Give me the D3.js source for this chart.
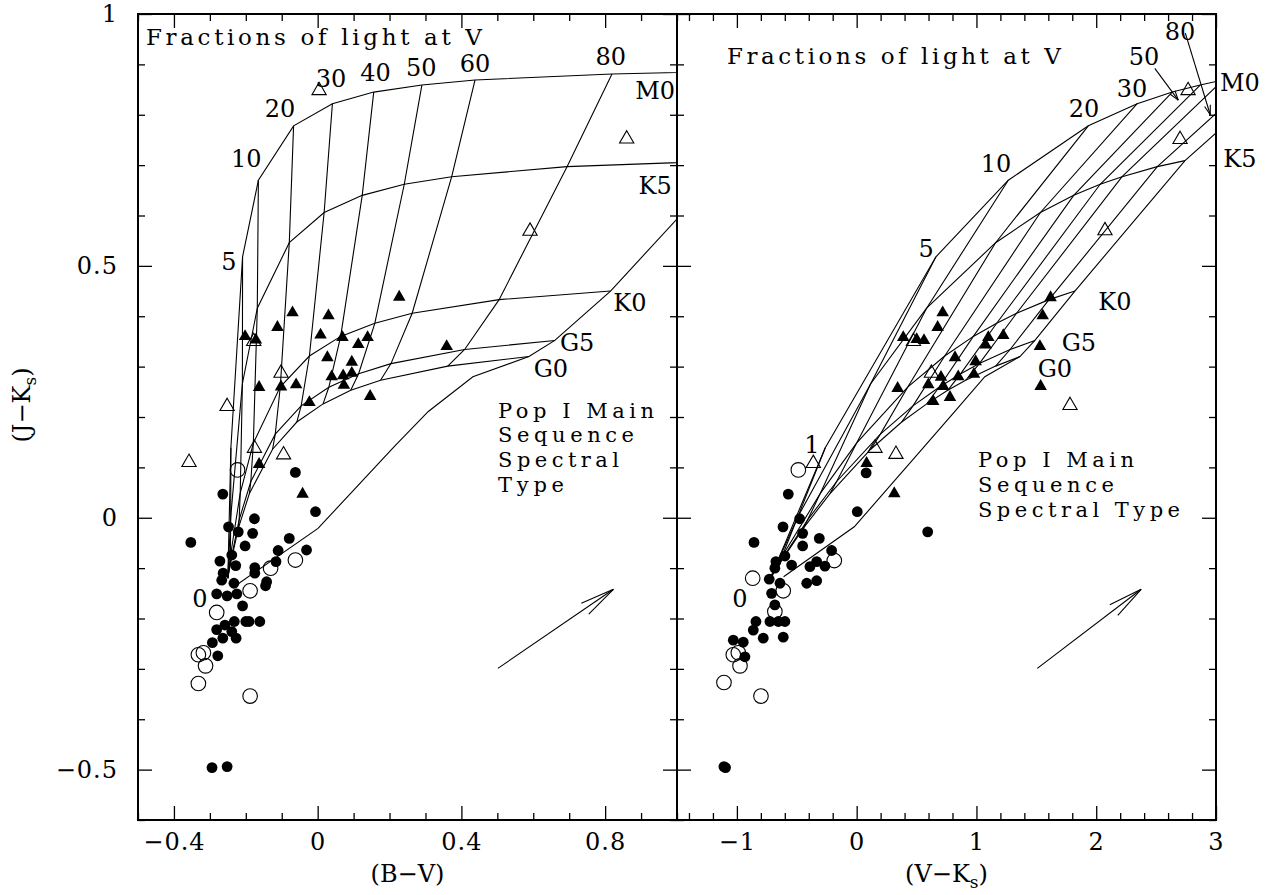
<!DOCTYPE html>
<html><head><meta charset="utf-8">
<script src="https://cdn.jsdelivr.net/npm/d3@7"></script>
<style>body{margin:0;background:#fff;} svg text{font-family:"DejaVu Serif",serif;fill:#000;}</style>
</head><body><svg id="c" width="1273" height="895"></svg>
<script>
// ---------------- DATA ----------------
// fractions of light at V contributed by the cool companion (percent)
const fractions = [0, 1, 5, 10, 20, 30, 40, 50, 60, 80, 100];
const spectralTypes = ["G0", "G5", "K0", "K5", "M0"];
// composite colours along each mixing curve (same order as fractions)
const jkG0 = [-0.12, -0.096, -0.020, 0.048, 0.136, 0.190, 0.226, 0.253, 0.273, 0.301, 0.320];
const bvG0 = [-0.25, -0.244, -0.2205, -0.190, -0.1255, -0.058, 0.015, 0.092, 0.175, 0.362, 0.588];
const vkG0 = [-0.72, -0.659, -0.443, -0.2225, 0.1175, 0.376, 0.585, 0.760, 0.910, 1.160, 1.363];
const jkG5 = [-0.12, -0.092, -0.004, 0.072, 0.166, 0.222, 0.259, 0.286, 0.306, 0.334, 0.352];
const bvG5 = [-0.25, -0.244, -0.2185, -0.186, -0.118, -0.046, 0.031, 0.114, 0.204, 0.409, 0.660];
const vkG5 = [-0.72, -0.650, -0.409, -0.167, 0.198, 0.470, 0.688, 0.869, 1.024, 1.281, 1.488];
const jkK0 = [-0.12, -0.077, 0.049, 0.148, 0.260, 0.321, 0.360, 0.386, 0.406, 0.433, 0.450];
const bvK0 = [-0.25, -0.243, -0.2155, -0.179, -0.104, -0.023, 0.064, 0.159, 0.263, 0.505, 0.815];
const vkK0 = [-0.72, -0.623, -0.302, -0.001, 0.428, 0.735, 0.974, 1.169, 1.335, 1.606, 1.822];
const jkK5 = [-0.12, 0.001, 0.266, 0.416, 0.546, 0.606, 0.640, 0.662, 0.677, 0.697, 0.709];
const bvK5 = [-0.25, -0.242, -0.2095, -0.168, -0.079, 0.018, 0.124, 0.241, 0.373, 0.694, 1.15];
const vkK5 = [-0.72, -0.493, 0.117, 0.584, 1.160, 1.534, 1.812, 2.033, 2.216, 2.510, 2.741];
const jkM0 = [-0.12, 0.139, 0.518, 0.670, 0.778, 0.822, 0.845, 0.859, 0.869, 0.881, 0.89];
const bvM0 = [-0.25, -0.2415, -0.209, -0.165, -0.067, 0.041, 0.156, 0.290, 0.438, 0.819, 1.41];
const vkM0 = [-0.72, -0.262, 0.662, 1.266, 1.934, 2.342, 2.635, 2.868, 3.059, 3.363, 3.60];

// Pop I main sequence
const msBV = [-0.225, 0.001, 0.213, 0.308, 0.432, 0.588, 0.660, 0.815, 1.15, 1.41];
const msJKLeft = [-0.133, -0.021, 0.141, 0.211, 0.280, 0.320, 0.352, 0.450, 0.709, 0.89];
const msVK = [-0.61, -0.02, 0.564, 0.82, 1.07, 1.363, 1.488, 1.822, 2.741, 3.60];
const msJKRight = [-0.117, -0.018, 0.141, 0.211, 0.280, 0.320, 0.352, 0.450, 0.709, 0.89];

// observed stars [colour, J-Ks]
const leftFilledCircles = [[-0.062,0.090],[-0.264,0.047],[-0.006,0.012],[-0.176,-0.002],[-0.248,-0.018],[-0.221,-0.028],[-0.181,-0.031],[-0.353,-0.049],[-0.202,-0.056],[-0.079,-0.041],[-0.110,-0.065],[-0.031,-0.064],[-0.239,-0.074],[-0.272,-0.086],[-0.116,-0.087],[-0.228,-0.095],[-0.175,-0.099],[-0.263,-0.110],[-0.175,-0.110],[-0.267,-0.124],[-0.233,-0.130],[-0.142,-0.127],[-0.145,-0.135],[-0.281,-0.151],[-0.252,-0.155],[-0.225,-0.151],[-0.209,-0.175],[-0.232,-0.206],[-0.200,-0.206],[-0.191,-0.206],[-0.161,-0.206],[-0.281,-0.222],[-0.258,-0.213],[-0.264,-0.239],[-0.239,-0.226],[-0.227,-0.239],[-0.293,-0.248],[-0.278,-0.274],[-0.294,-0.496],[-0.252,-0.494]];
const rightFilledCircles = [[0.079,0.089],[-0.571,0.047],[0.005,0.012],[-0.476,-0.002],[-0.615,-0.018],[0.593,-0.028],[-0.451,-0.031],[-0.857,-0.049],[-0.451,-0.056],[-0.312,-0.041],[-0.209,-0.065],[-0.599,-0.076],[-0.674,-0.087],[-0.543,-0.094],[-0.390,-0.097],[-0.334,-0.087],[-0.265,-0.096],[-0.417,-0.130],[-0.334,-0.125],[-0.730,-0.122],[-0.683,-0.100],[-0.640,-0.130],[-0.710,-0.150],[-0.683,-0.173],[-0.841,-0.206],[-0.724,-0.206],[-0.654,-0.206],[-0.599,-0.206],[-0.863,-0.223],[-0.780,-0.239],[-0.613,-0.237],[-1.030,-0.243],[-0.947,-0.247],[-0.933,-0.276],[-1.108,-0.494],[-1.095,-0.496]];
const leftOpenCircles = [[-0.223,0.095],[-0.131,-0.100],[-0.062,-0.084],[-0.188,-0.145],[-0.281,-0.188],[-0.332,-0.272],[-0.318,-0.268],[-0.312,-0.294],[-0.332,-0.329],[-0.188,-0.354]];
const rightOpenCircles = [[-0.487,0.095],[-0.868,-0.120],[-0.187,-0.085],[-0.613,-0.145],[-0.683,-0.186],[-1.030,-0.272],[-0.988,-0.268],[-0.974,-0.294],[-1.108,-0.327],[-0.799,-0.354]];
const leftFilledTriangles = [[0.227,0.441],[-0.070,0.410],[0.030,0.404],[-0.112,0.381],[-0.202,0.363],[-0.172,0.356],[0.008,0.366],[0.069,0.361],[0.139,0.361],[0.113,0.347],[0.359,0.343],[0.027,0.321],[0.095,0.312],[-0.163,0.262],[-0.102,0.263],[-0.060,0.267],[0.039,0.283],[0.071,0.285],[0.095,0.290],[0.073,0.266],[-0.023,0.232],[0.146,0.244],[-0.163,0.109],[-0.042,0.050]];
const rightFilledTriangles = [[1.619,0.440],[0.718,0.410],[1.553,0.404],[0.676,0.381],[0.389,0.361],[0.501,0.357],[0.562,0.355],[1.099,0.361],[1.224,0.365],[1.077,0.346],[1.530,0.343],[0.821,0.321],[0.993,0.313],[1.536,0.264],[0.342,0.260],[0.598,0.267],[0.723,0.264],[0.704,0.282],[0.848,0.283],[0.979,0.288],[0.639,0.234],[0.779,0.242],[0.083,0.111],[0.314,0.051]];
const leftOpenTriangles = [[0.004,0.851],[0.860,0.755],[0.591,0.572],[-0.252,0.224],[-0.358,0.113],[-0.178,0.353],[-0.102,0.290],[-0.176,0.141],[-0.095,0.128]];
const rightOpenTriangles = [[2.767,0.851],[2.700,0.754],[2.073,0.573],[1.781,0.226],[-0.362,0.111],[0.153,0.141],[0.328,0.129],[0.474,0.353],[0.624,0.290]];

// reddening vectors [x0,y0,x1,y1]
const leftReddening = [0.5015, -0.299, 0.823, -0.142];
const rightReddening = [1.508, -0.299, 2.375, -0.142];

// axis ticks
const leftXMajor = [-0.4, 0, 0.4, 0.8];
const leftXMinor = [-0.5,-0.3,-0.2,-0.1,0.1,0.2,0.3,0.5,0.6,0.7,0.9,1.0];
const rightXMajor = [-1, 0, 1, 2, 3];
const rightXMinor = [-1.4,-1.2,-0.8,-0.6,-0.4,-0.2,0.2,0.4,0.6,0.8,1.2,1.4,1.6,1.8,2.2,2.4,2.6,2.8];
const yMajor = [-0.5, 0, 0.5, 1];
const yMinor = [-0.6,-0.4,-0.3,-0.2,-0.1,0.1,0.2,0.3,0.4,0.6,0.7,0.8,0.9];

// annotation labels [text, x, y]
const leftLabels = [["5",-0.247,0.492],["10",-0.199,0.696],["20",-0.105,0.795],["30",0.037,0.855],["40",0.161,0.867],["50",0.288,0.877],["60",0.438,0.885],["80",0.816,0.899],["M0",0.939,0.831],["K5",0.939,0.643],["K0",0.869,0.410],["G5",0.722,0.331],["G0",0.649,0.279],["0",-0.328,-0.177]];
const rightLabels = [["80",2.699,0.948],["50",2.399,0.899],["30",2.298,0.835],["20",1.898,0.795],["10",1.163,0.686],["5",0.579,0.517],["1",-0.373,0.128],["0",-0.974,-0.177],["M0",3.200,0.847],["K5",3.200,0.696],["K0",2.156,0.412],["G5",1.855,0.331],["G0",1.655,0.279]];
// text blocks [text, x, y, width in px]
const leftTextBlocks = [["Fractions of light at V",-0.478,0.938,336],["Pop I Main",0.502,0.198,156],["Sequence",0.502,0.150,136],["Spectral",0.502,0.100,121],["Type",0.502,0.051,66]];
const rightTextBlocks = [["Fractions of light at V",-1.083,0.901,334],["Pop I Main",1.013,0.101,156],["Sequence",1.013,0.051,136],["Spectral Type",1.013,0.001,202]];
// label pointer arrows in right panel [x0,y0,x1,y1]
const rightPointers = [[2.489,0.892,2.685,0.829],[2.744,0.962,2.952,0.800]];

// ---------------- DRAW ----------------
const svg = d3.select("#c");
const Y0 = 14, Y1 = 820;
const yS = d3.scaleLinear().domain([-0.6, 1.0]).range([Y1, Y0]);
const typeJK = {G0: jkG0, G5: jkG5, K0: jkK0, K5: jkK5, M0: jkM0};
const panels = [
  {id: "L", x: d3.scaleLinear().domain([-0.5, 1.0]).range([138, 677]),
   col: {G0: bvG0, G5: bvG5, K0: bvK0, K5: bvK5, M0: bvM0}, ms: [msBV, msJKLeft],
   fc: leftFilledCircles, oc: leftOpenCircles, ft: leftFilledTriangles, ot: leftOpenTriangles,
   red: leftReddening, labels: leftLabels, blocks: leftTextBlocks, pointers: [],
   xMajor: leftXMajor, xMinor: leftXMinor, yLabels: true, title: "(B−V)", sub: null},
  {id: "R", x: d3.scaleLinear().domain([-1.5, 3.0]).range([677, 1216]),
   col: {G0: vkG0, G5: vkG5, K0: vkK0, K5: vkK5, M0: vkM0}, ms: [msVK, msJKRight],
   fc: rightFilledCircles, oc: rightOpenCircles, ft: rightFilledTriangles, ot: rightOpenTriangles,
   red: rightReddening, labels: rightLabels, blocks: rightTextBlocks, pointers: rightPointers,
   xMajor: rightXMajor, xMinor: rightXMinor, yLabels: false, title: "(V−K", sub: "s"}
];
const fmt = d => d === 0 ? "0" : (d < 0 ? "−" : "") + Math.abs(d);
const line = d3.line();

function arrow(g, p0, p1, len, ang, sw) {
  const dx = p1[0]-p0[0], dy = p1[1]-p0[1];
  const a = Math.atan2(dy, dx);
  g.append("line").attr("x1",p0[0]).attr("y1",p0[1]).attr("x2",p1[0]).attr("y2",p1[1])
    .attr("stroke","#000").attr("stroke-width",sw);
  [-ang, ang].forEach(s => {
    g.append("line").attr("x1",p1[0]).attr("y1",p1[1])
      .attr("x2",p1[0]-len*Math.cos(a+s)).attr("y2",p1[1]-len*Math.sin(a+s))
      .attr("stroke","#000").attr("stroke-width",sw);
  });
}

panels.forEach(p => {
  const x = p.x, [xa, xb] = x.range();
  const defs = svg.append("defs");
  defs.append("clipPath").attr("id","clip"+p.id).append("rect")
    .attr("x",xa).attr("y",Y0).attr("width",xb-xa).attr("height",Y1-Y0);
  const g = svg.append("g").attr("clip-path",`url(#clip${p.id})`);
  // mixing curves for each spectral type
  spectralTypes.forEach(t => {
    const pts = fractions.map((f,i) => [x(p.col[t][i]), yS(typeJK[t][i])]);
    g.append("path").attr("d", line(pts)).attr("fill","none").attr("stroke","#000").attr("stroke-width",1.1);
  });
  // iso-fraction lines
  fractions.forEach((f,i) => {
    if (f === 0 || f === 100) return;
    const pts = spectralTypes.map(t => [x(p.col[t][i]), yS(typeJK[t][i])]);
    g.append("path").attr("d", line(pts)).attr("fill","none").attr("stroke","#000").attr("stroke-width",1.1);
  });
  // main sequence
  g.append("path").attr("d", line(p.ms[0].map((v,i) => [x(v), yS(p.ms[1][i])])))
    .attr("fill","none").attr("stroke","#000").attr("stroke-width",1.1);
  // stars
  g.selectAll(null).data(p.fc).join("circle").attr("cx",d=>x(d[0])).attr("cy",d=>yS(d[1])).attr("r",5.4).attr("fill","#000");
  g.selectAll(null).data(p.oc).join("circle").attr("cx",d=>x(d[0])).attr("cy",d=>yS(d[1])).attr("r",7.3)
    .attr("fill","none").attr("stroke","#000").attr("stroke-width",1.1);
  const triF = d3.symbol().type(d3.symbolTriangle).size(68);
  const triO = d3.symbol().type(d3.symbolTriangle).size(88);
  g.selectAll(null).data(p.ft).join("path").attr("d",triF).attr("transform",d=>`translate(${x(d[0])},${yS(d[1])+1.5})`).attr("fill","#000");
  g.selectAll(null).data(p.ot).join("path").attr("d",triO).attr("transform",d=>`translate(${x(d[0])},${yS(d[1])+1.5})`)
    .attr("fill","none").attr("stroke","#000").attr("stroke-width",1.1);
  // reddening vector
  arrow(g, [x(p.red[0]), yS(p.red[1])], [x(p.red[2]), yS(p.red[3])], 35, 0.19, 1.1);
  p.pointers.forEach(q => arrow(g, [x(q[0]), yS(q[1])], [x(q[2]), yS(q[3])], 10, 0.3, 1.1));

  // labels (not clipped)
  const lg = svg.append("g").attr("font-size",24);
  lg.selectAll(null).data(p.labels).join("text").attr("x",d=>x(d[1])).attr("y",d=>yS(d[2]))
    .attr("text-anchor","middle").text(d=>d[0]);
  lg.selectAll(null).data(p.blocks).join("text").attr("x",d=>x(d[1])).attr("y",d=>yS(d[2]))
    .attr("font-size",(d,i)=> i === 0 ? 23 : 21)
    .attr("textLength",d=>d[3]).attr("lengthAdjust","spacing").text(d=>d[0]);

  // frame
  svg.append("rect").attr("x",xa).attr("y",Y0).attr("width",xb-xa).attr("height",Y1-Y0)
    .attr("fill","none").attr("stroke","#000").attr("stroke-width",2);
  // ticks
  const ax = svg.append("g");
  const add = (axis, tr) => ax.append("g").attr("transform",tr).call(axis);
  add(d3.axisBottom(x).tickValues(p.xMajor).tickSize(-14).tickPadding(13).tickFormat(fmt), `translate(0,${Y1})`);
  add(d3.axisBottom(x).tickValues(p.xMinor).tickSize(-7).tickFormat(""), `translate(0,${Y1})`);
  add(d3.axisTop(x).tickValues(p.xMajor).tickSize(-14).tickFormat(""), `translate(0,${Y0})`);
  add(d3.axisTop(x).tickValues(p.xMinor).tickSize(-7).tickFormat(""), `translate(0,${Y0})`);
  add(d3.axisLeft(yS).tickValues(yMajor).tickSize(-14).tickPadding(20).tickFormat(p.yLabels ? fmt : ""), `translate(${xa},0)`);
  add(d3.axisLeft(yS).tickValues(yMinor).tickSize(-7).tickFormat(""), `translate(${xa},0)`);
  add(d3.axisRight(yS).tickValues(yMajor).tickSize(-14).tickFormat(""), `translate(${xb},0)`);
  add(d3.axisRight(yS).tickValues(yMinor).tickSize(-7).tickFormat(""), `translate(${xb},0)`);
  ax.selectAll(".domain").remove();
  ax.selectAll(".tick line").attr("stroke","#000").attr("stroke-width",1.3);
  ax.selectAll("g").attr("font-family",null).attr("font-size",null);
  ax.selectAll(".tick text").attr("font-size",24).attr("letter-spacing",1).attr("fill","#000");

  // axis title
  const tt = svg.append("text").attr("x",(xa+xb)/2).attr("y",882).attr("text-anchor","middle").attr("font-size",24).text(p.title);
  if (p.sub) { tt.append("tspan").attr("font-size",17).attr("dy",6).text(p.sub); tt.append("tspan").attr("dy",-6).text(")"); }
});

// y axis title
const yt = svg.append("text").attr("transform","translate(30,405) rotate(-90)").attr("text-anchor","middle").attr("font-size",24).text("(J−K");
yt.append("tspan").attr("font-size",17).attr("dy",6).text("s");
yt.append("tspan").attr("dy",-6).text(")");
</script></body></html>
